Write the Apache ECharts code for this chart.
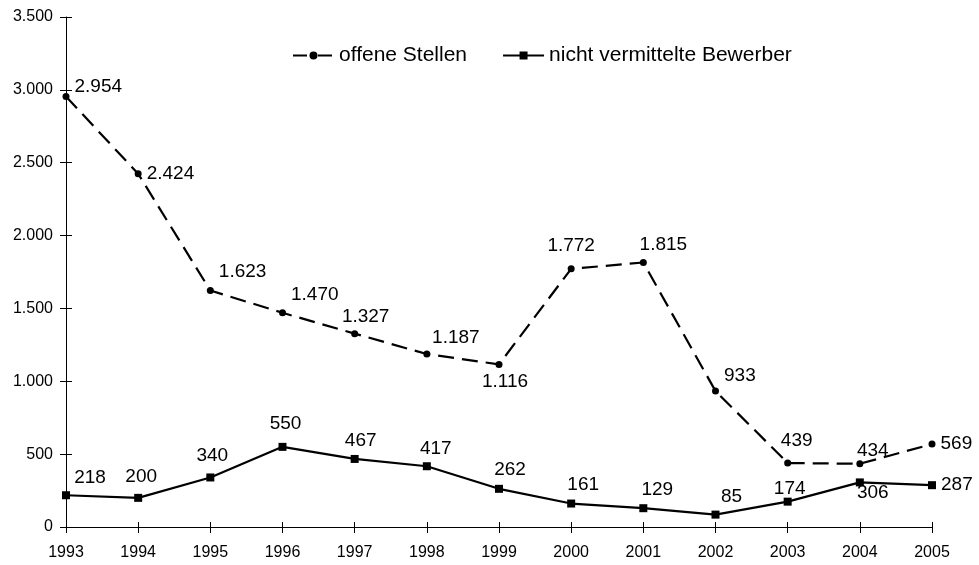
<!DOCTYPE html>
<html>
<head>
<meta charset="utf-8">
<script src="https://cdn.jsdelivr.net/npm/echarts@6/dist/echarts.min.js"></script>
<style>
  html, body { margin: 0; padding: 0; background: #fff; }
  #chart { width: 979px; height: 565px; }
</style>
</head>
<body>
<div id="chart"></div>
<script>
// Offene Stellen vs. nicht vermittelte Bewerber, 1993-2005
const years = ['1993', '1994', '1995', '1996', '1997', '1998', '1999', '2000', '2001', '2002', '2003', '2004', '2005'];
const offeneStellen = [2954, 2424, 1623, 1470, 1327, 1187, 1116, 1772, 1815, 933, 439, 434, 569];
const bewerber = [218, 200, 340, 550, 467, 417, 262, 161, 129, 85, 174, 306, 287];

// label placement per point: [position, dx, dy]
const stellenLabelPos = [
  ['right', 0, -10], ['right', 0, 0], ['right', 0, -19], ['right', 0, -18],
  ['top', 11, 1], ['top', 29, 2], ['bottom', 6, -1], ['top', 0, -5],
  ['top', 20, 0], ['right', 0, -15], ['top', 9, -4], ['top', 13, 5], ['right', 0, 0]
];
const bewerberLabelPos = [
  ['top', 24, 1], ['top', 3, -3], ['top', 2, -3], ['top', 3, -5],
  ['top', 6, 0], ['top', 9, 1], ['top', 11, -1], ['top', 12, 0],
  ['top', 14, 0], ['top', 16, 1], ['top', 2, 6], ['bottom', 13, -8], ['right', 0, 0]
];

const deNum = v => String(v).replace(/\B(?=(\d{3})+(?!\d))/g, '.');

function withLabels(values, pos){
  return values.map((v, i) => ({
    value: v,
    label: { position: pos[i][0], offset: [pos[i][1], pos[i][2]] }
  }));
}

const FONT = '"Liberation Sans", Arial, sans-serif';
const chart = echarts.init(document.getElementById('chart'));

const labelStyle = {
  show: true,
  fontFamily: FONT,
  fontSize: 19,
  color: '#000',
  formatter: p => deNum(p.value)
};

// second pair of axes only draws the inner half of the crossing ticks
const innerX = {
  type: 'category',
  data: years,
  boundaryGap: false,
  position: 'bottom',
  axisLine: { show: false },
  axisTick: { inside: true, alignWithLabel: true, length: 5, lineStyle: { color: '#000' } },
  axisLabel: { show: false },
  splitLine: { show: false }
};
const innerY = {
  type: 'value',
  min: 0,
  max: 3500,
  interval: 500,
  position: 'left',
  axisLine: { show: false },
  axisTick: { show: true, inside: true, length: 6, lineStyle: { color: '#000' } },
  axisLabel: { show: false },
  splitLine: { show: false }
};

chart.setOption({
  backgroundColor: '#fff',
  animation: false,
  grid: { left: 66, right: 47, top: 17, bottom: 38 },
  legend: {
    left: 292,
    top: 45,
    padding: 0,
    itemWidth: 41,
    itemHeight: 10,
    itemGap: 35,
    textStyle: { fontFamily: FONT, fontSize: 21, color: '#000' },
    data: [
      { name: 'offene Stellen', lineStyle: { type: [14, 11] } },
      { name: 'nicht vermittelte Bewerber' }
    ]
  },
  xAxis: [{
    type: 'category',
    data: years,
    boundaryGap: false,
    position: 'bottom',
    axisLine: { lineStyle: { color: '#000', width: 1 } },
    axisTick: { alignWithLabel: true, length: 6, lineStyle: { color: '#000' } },
    axisLabel: { fontFamily: FONT, fontSize: 16, color: '#000', margin: 18 },
    splitLine: { show: false }
  }, innerX],
  yAxis: [{
    type: 'value',
    min: 0,
    max: 3500,
    interval: 500,
    position: 'left',
    axisLine: { show: true, lineStyle: { color: '#000', width: 1 } },
    axisTick: { show: true, length: 6, lineStyle: { color: '#000' } },
    axisLabel: { fontFamily: FONT, fontSize: 16, color: '#000', margin: 13, formatter: deNum },
    splitLine: { show: false }
  }, innerY],
  series: [
    {
      name: 'offene Stellen',
      type: 'line',
      data: withLabels(offeneStellen, stellenLabelPos),
      symbol: 'circle',
      symbolSize: 7,
      lineStyle: { color: '#000', width: 2.2, type: [16, 8] },
      itemStyle: { color: '#000' },
      label: labelStyle,
      z: 3
    },
    {
      name: 'nicht vermittelte Bewerber',
      type: 'line',
      data: withLabels(bewerber, bewerberLabelPos),
      symbol: 'rect',
      symbolSize: 8,
      lineStyle: { color: '#000', width: 2.2 },
      itemStyle: { color: '#000' },
      label: labelStyle,
      z: 3
    }
  ]
});
</script>
</body>
</html>
